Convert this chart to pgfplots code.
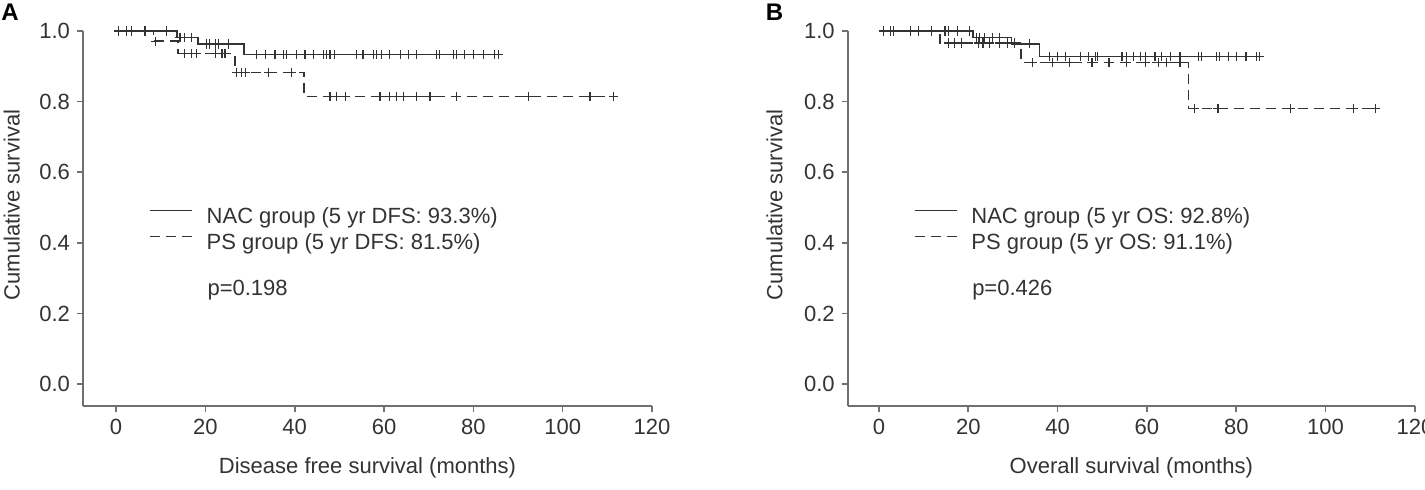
\documentclass[border=0pt]{standalone}
\usepackage{fontspec}
\setmainfont{Liberation Sans}
\usepackage{pgfplots}
\pgfplotsset{compat=1.18}

\definecolor{txt}{HTML}{333333}
\definecolor{axisgray}{HTML}{707070}
\definecolor{curve}{HTML}{333333}

\newcommand{\fs}{\fontsize{11}{13}\selectfont}

\pgfplotsset{
  kmpanel/.style={
    scale only axis,
    height=187.5pt,
    xmax=120, ymin=-0.062, ymax=1,
    axis x line=bottom, axis y line=left,
    axis line style={axisgray, line width=0.8pt, -},
    xtick={0,20,...,120},
    ytick={0,0.2,0.4,0.6,0.8,1.0},
    yticklabel style={/pgf/number format/.cd, fixed, fixed zerofill, precision=1},
    /pgf/number format/assume math mode=true,
    tick align=outside,
    major tick length=3pt,
    tick style={axisgray, line width=0.8pt},
    every tick label/.append style={font=\fs, text=txt},
    label style={font=\fs, text=txt},
    clip=false,
    legend cell align=left,
    legend style={draw=none, fill=none, font=\fs, text=txt,
      inner sep=0pt, outer sep=0pt,
      row sep=2.5pt, column sep=7pt,
      nodes={inner sep=0pt, text height=8pt, text depth=2.5pt}},
    legend image code/.code={\draw[#1,mark=none] (0pt,3.7pt) -- (21pt,3.7pt);},
  },
  kmline/.style={curve, line width=0.8pt, const plot},
  kmdash/.style={curve, line width=0.8pt, const plot, dash pattern=on 5pt off 3pt},
  kmcens/.style={only marks, mark=+, mark size=2.3pt, curve, line width=0.6pt, forget plot},
}

\begin{document}
\begin{tikzpicture}

% ---------------- Panel A: disease free survival ----------------
\begin{axis}[kmpanel,
  at={(41.5pt,41.5pt)}, anchor=south west,
  width=284.5pt, xmin=-7.4,
  xlabel={Disease free survival (months)},
  ylabel={Cumulative survival},
  xlabel style={at={(axis description cs:0.5,-0.165)}, anchor=center},
  ylabel style={at={(axis description cs:-0.125,0.536)}, anchor=center},
  legend style={at={(axis cs:7.4,0.434)}, anchor=west},
]
\addplot[kmline] coordinates {(0,1) (13.7,0.982) (18.4,0.963) (28.7,0.933) (86.2,0.933)};
\addlegendentry{NAC group (5 yr DFS: 93.3\%)}
\addplot[kmdash] coordinates {(0,1) (8.4,0.971) (13.9,0.936) (26.6,0.883) (42.1,0.815) (111.5,0.815)};
\addlegendentry{PS group (5 yr DFS: 81.5\%)}
% censored NAC patients
\addplot[kmcens] coordinates {
  (0.5,1) (2.4,1) (3.5,1) (6.5,1) (11.3,1)
  (14.3,0.982) (15.4,0.982) (16.9,0.982)
  (20.3,0.963) (21.0,0.963) (22.2,0.963) (22.9,0.963) (25.2,0.963)
  (31.5,0.933) (33.4,0.933) (35.6,0.933) (37.5,0.933) (38.2,0.933) (40.4,0.933)
  (42.3,0.933) (44.2,0.933) (46.4,0.933) (47.2,0.933) (47.9,0.933) (49.0,0.933)
  (53.9,0.933) (55.3,0.933) (57.6,0.933) (58.3,0.933) (59.5,0.933) (61.3,0.933)
  (63.6,0.933) (65.4,0.933) (67.3,0.933) (71.8,0.933) (72.5,0.933) (75.5,0.933)
  (76.3,0.933) (78.1,0.933) (80.0,0.933) (82.2,0.933) (84.8,0.933) (85.6,0.933)};
% censored PS patients
\addplot[kmcens] coordinates {
  (8.9,0.971)
  (15.4,0.936) (16.9,0.936) (18.1,0.936) (22.2,0.936) (23.7,0.936) (24.4,0.936)
  (27.0,0.883) (28.0,0.883) (29.0,0.883) (34.1,0.883) (39.3,0.883)
  (47.9,0.815) (49.4,0.815) (51.3,0.815) (59.1,0.815) (61.3,0.815) (62.8,0.815)
  (64.3,0.815) (67.3,0.815) (70.3,0.815) (76.3,0.815) (92.3,0.815) (106.1,0.815)
  (111.3,0.815)};
\node[anchor=west, font=\fs, text=txt, inner sep=0pt] at (axis cs:20.4,0.266) {p=0.198};
\node[font=\bfseries\fontsize{12}{14}\selectfont, text=black] at (axis description cs:-0.128,1.05) {A};
\end{axis}

% ---------------- Panel B: overall survival ----------------
\begin{axis}[kmpanel,
  at={(423.85pt,41.5pt)}, anchor=south west,
  width=283.6pt, xmin=-7.0,
  xlabel={Overall survival (months)},
  ylabel={Cumulative survival},
  xlabel style={at={(axis description cs:0.5,-0.165)}, anchor=center},
  ylabel style={at={(axis description cs:-0.129,0.536)}, anchor=center},
  legend style={at={(axis cs:7.8,0.434)}, anchor=west},
]
\addplot[kmline] coordinates {(0,1) (21.0,0.982) (29.7,0.964) (35.9,0.928) (86.0,0.928)};
\addlegendentry{NAC group (5 yr OS: 92.8\%)}
\addplot[kmdash] coordinates {(0,1) (13.6,0.966) (31.8,0.911) (69.3,0.781) (111.5,0.781)};
\addlegendentry{PS group (5 yr OS: 91.1\%)}
% censored NAC patients
\addplot[kmcens] coordinates {
  (1.0,1) (2.5,1) (3.3,1) (7.0,1) (8.8,1) (11.8,1) (14.8,1) (15.5,1) (17.5,1) (20.3,1)
  (21.8,0.982) (22.5,0.982) (23.6,0.982) (25.5,0.982) (27.0,0.982)
  (33.7,0.964)
  (38.1,0.928) (40.0,0.928) (41.8,0.928) (45.2,0.928) (47.0,0.928) (48.5,0.928)
  (49.0,0.928) (54.4,0.928) (55.5,0.928) (57.0,0.928) (58.5,0.928) (59.6,0.928)
  (61.8,0.928) (63.3,0.928) (65.2,0.928) (67.4,0.928) (71.5,0.928) (72.2,0.928)
  (75.6,0.928) (76.3,0.928) (78.2,0.928) (80.0,0.928) (82.2,0.928) (84.5,0.928)
  (85.2,0.928)};
% censored PS patients
\addplot[kmcens] coordinates {
  (15.5,0.966) (17.0,0.966) (18.5,0.966) (22.2,0.966) (23.3,0.966) (24.8,0.966)
  (27.0,0.966) (28.8,0.966) (30.3,0.966)
  (34.4,0.911) (38.8,0.911) (42.6,0.911) (47.7,0.911) (51.5,0.911) (55.5,0.911)
  (59.6,0.911) (62.6,0.911) (64.4,0.911) (67.4,0.911)
  (70.7,0.781) (75.9,0.781) (92.2,0.781) (106.3,0.781) (111.1,0.781)};
\node[anchor=west, font=\fs, text=txt, inner sep=0pt] at (axis cs:20.8,0.266) {p=0.426};
\node[font=\bfseries\fontsize{12}{14}\selectfont, text=black] at (axis description cs:-0.129,1.05) {B};
\end{axis}

\pgfresetboundingbox
\path (0pt,0pt) rectangle (712.5pt,244.5pt);
\end{tikzpicture}
\end{document}
